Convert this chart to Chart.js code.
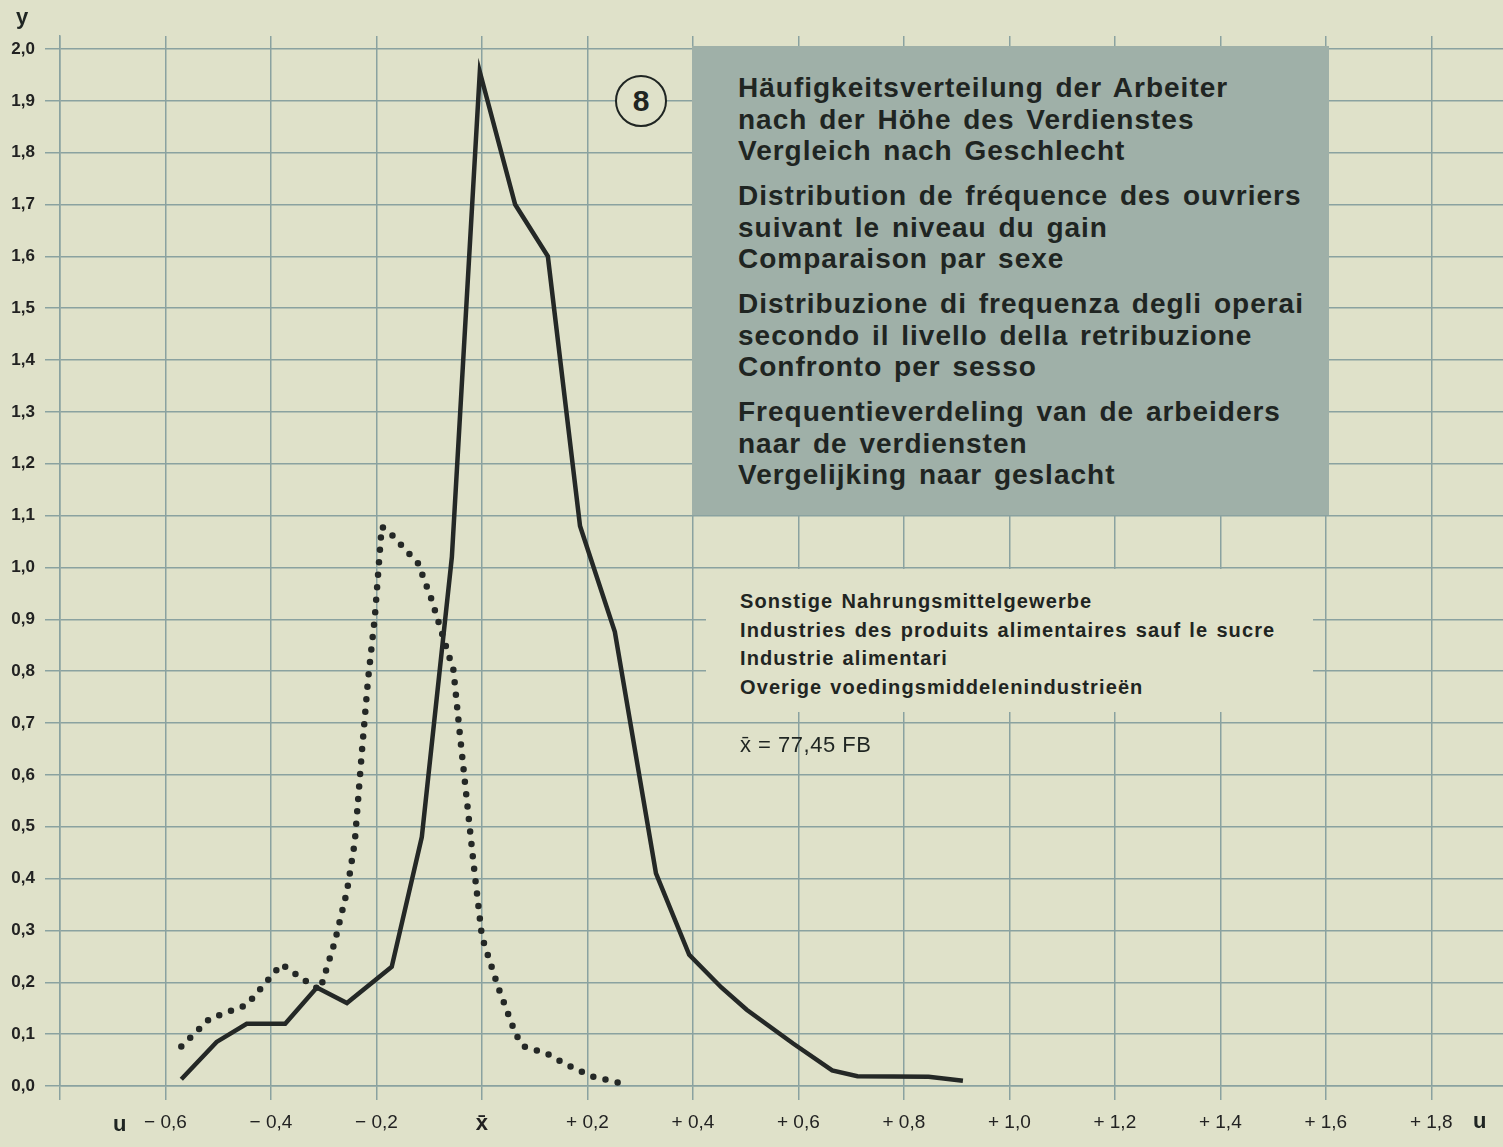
<!DOCTYPE html>
<html>
<head>
<meta charset="utf-8">
<script src="https://cdn.jsdelivr.net/npm/chart.js@4.4.0/dist/chart.umd.min.js"></script>
<style>
  html, body { margin: 0; padding: 0; }
  body {
    width: 1503px; height: 1147px; position: relative; overflow: hidden;
    background: #dfe1c9;
    font-family: "Liberation Sans", Arial, sans-serif;
    color: #1f2522;
  }
  #chart { position: absolute; left: 0; top: 0; }
  .box {
    position: absolute; left: 692px; top: 46px; width: 637px; height: 469px;
    background: #9fb0a8;
  }
  .box .group {
    position: absolute; left: 46px;
    font-weight: bold; font-size: 28px; line-height: 31.5px;
    letter-spacing: 1px; word-spacing: 3px; white-space: nowrap;
  }
  .badge {
    position: absolute; left: 615px; top: 75px; width: 48px; height: 48px;
    border: 2px solid #1f2522; border-radius: 50%; background: #dfe1c9;
    font-weight: bold; font-size: 30px; line-height: 48px; text-align: center;
  }
  .blank {
    position: absolute; left: 706px; top: 569px; width: 607px; height: 143px;
    background: #dfe1c9;
  }
  .branch {
    position: absolute; left: 740px; top: 587px;
    font-weight: bold; font-size: 20px; line-height: 28.5px;
    letter-spacing: 1.1px; word-spacing: 1.5px; white-space: nowrap;
  }
  .mean {
    position: absolute; left: 740px; top: 732px;
    font-size: 22px; letter-spacing: 0.5px; white-space: nowrap;
  }
  .lbl { position: absolute; font-weight: bold; font-size: 22px; }
</style>
</head>
<body>
<canvas id="chart" width="1503" height="1147"></canvas>

<div class="badge">8</div>
<div class="box">
  <div class="group" style="top:26px">Häufigkeitsverteilung der Arbeiter<br>nach der Höhe des Verdienstes<br>Vergleich nach Geschlecht</div>
  <div class="group" style="top:134px">Distribution de fréquence des ouvriers<br>suivant le niveau du gain<br>Comparaison par sexe</div>
  <div class="group" style="top:242px">Distribuzione di frequenza degli operai<br>secondo il livello della retribuzione<br>Confronto per sesso</div>
  <div class="group" style="top:350px">Frequentieverdeling van de arbeiders<br>naar de verdiensten<br>Vergelijking naar geslacht</div>
</div>
<div class="blank"></div>
<div class="branch">Sonstige Nahrungsmittelgewerbe<br>Industries des produits alimentaires sauf le sucre<br>Industrie alimentari<br>Overige voedingsmiddelenindustrieën</div>
<div class="mean">x̄ = 77,45 FB</div>

<div class="lbl" style="left:16px; top:4px;">y</div>
<div class="lbl" style="left:113px; top:1111px;">u</div>
<div class="lbl" style="left:1473px; top:1108px;">u</div>

<script>
// u = deviation from mean earnings, y = frequency density
const solidU = [-0.570, -0.503, -0.446, -0.373, -0.313, -0.256, -0.171, -0.114, -0.057, -0.004,
                0.063, 0.125, 0.186, 0.252, 0.330, 0.393, 0.454, 0.502, 0.590, 0.664, 0.712, 0.847, 0.912];
const solidY = [0.013, 0.085, 0.120, 0.120, 0.190, 0.160, 0.230, 0.480, 1.020, 1.956,
                1.700, 1.600, 1.080, 0.876, 0.410, 0.253, 0.190, 0.147, 0.082, 0.030, 0.019, 0.018, 0.010];

const dottedU = [-0.570, -0.516, -0.446, -0.380, -0.342, -0.307, -0.279, -0.256, -0.241, -0.228,
                 -0.216, -0.203, -0.190, -0.171, -0.121, -0.095, -0.067, -0.054, -0.042, -0.016,
                 0.000, 0.031, 0.064, 0.078, 0.122, 0.163, 0.207, 0.260];
const dottedY = [0.076, 0.130, 0.156, 0.235, 0.208, 0.185, 0.278, 0.375, 0.471, 0.640,
                 0.783, 0.905, 1.079, 1.063, 1.008, 0.937, 0.844, 0.802, 0.680, 0.430,
                 0.288, 0.190, 0.100, 0.077, 0.063, 0.040, 0.019, 0.006];

const xTickValues = [-0.8, -0.6, -0.4, -0.2, 0, 0.2, 0.4, 0.6, 0.8, 1.0, 1.2, 1.4, 1.6, 1.8];
const xTickLabels = ["", "− 0,6", "− 0,4", "− 0,2", "x̄", "+ 0,2", "+ 0,4", "+ 0,6", "+ 0,8",
                     "+ 1,0", "+ 1,2", "+ 1,4", "+ 1,6", "+ 1,8"];
const yTickValues = [0, 0.1, 0.2, 0.3, 0.4, 0.5, 0.6, 0.7, 0.8, 0.9, 1.0,
                     1.1, 1.2, 1.3, 1.4, 1.5, 1.6, 1.7, 1.8, 1.9, 2.0];
const yTickLabels = ["0,0", "0,1", "0,2", "0,3", "0,4", "0,5", "0,6", "0,7", "0,8", "0,9", "1,0",
                     "1,1", "1,2", "1,3", "1,4", "1,5", "1,6", "1,7", "1,8", "1,9", "2,0"];

const gridColor = "#8aa2a0";
const inkColor = "#242826";
const fontFamily = "'Liberation Sans', Arial, sans-serif";

function toPoints(us, ys) {
    return us.map((u, i) => ({ x: u, y: ys[i] }));
}

const ctx = document.getElementById("chart").getContext("2d");
new Chart(ctx, {
    type: "scatter",
    data: {
        datasets: [
            {
                label: "solid",
                data: toPoints(solidU, solidY),
                showLine: true,
                borderColor: inkColor,
                borderWidth: 4.5,
                borderJoinStyle: "miter",
                pointRadius: 0,
                tension: 0
            },
            {
                label: "dotted",
                data: toPoints(dottedU, dottedY),
                showLine: true,
                borderColor: inkColor,
                borderWidth: 6.5,
                borderDash: [0, 12.5],
                borderCapStyle: "round",
                pointRadius: 0,
                tension: 0
            }
        ]
    },
    options: {
        responsive: false,
        animation: false,
        layout: { padding: { top: 36, left: 0, right: 0, bottom: 0 } },
        plugins: {
            legend: { display: false },
            tooltip: { enabled: false }
        },
        scales: {
            x: {
                type: "linear",
                min: -0.8,
                max: 1.936,
                afterBuildTicks: s => { s.ticks = xTickValues.map(v => ({ value: v })); },
                afterFit: s => { s.height = 61; },
                grid: { color: gridColor, lineWidth: 1.5, tickLength: 14 },
                border: { color: gridColor, width: 1.5 },
                ticks: {
                    autoSkip: false,
                    maxRotation: 0,
                    padding: 11,
                    color: "#222",
                    callback: (v, i) => xTickLabels[i],
                    font: c => (c.tick && c.tick.value === 0)
                        ? { family: fontFamily, size: 22, weight: "bold" }
                        : { family: fontFamily, size: 19 }
                }
            },
            y: {
                type: "linear",
                min: 0,
                max: 2.025,
                afterBuildTicks: s => { s.ticks = yTickValues.map(v => ({ value: v })); },
                afterFit: s => { s.width = 60; },
                grid: { color: gridColor, lineWidth: 1.5, tickLength: 15 },
                border: { color: gridColor, width: 1.5 },
                ticks: {
                    padding: 10,
                    color: "#222",
                    callback: (v, i) => yTickLabels[i],
                    font: { family: fontFamily, size: 17, weight: "bold" }
                }
            }
        }
    }
});
</script>
</body>
</html>
